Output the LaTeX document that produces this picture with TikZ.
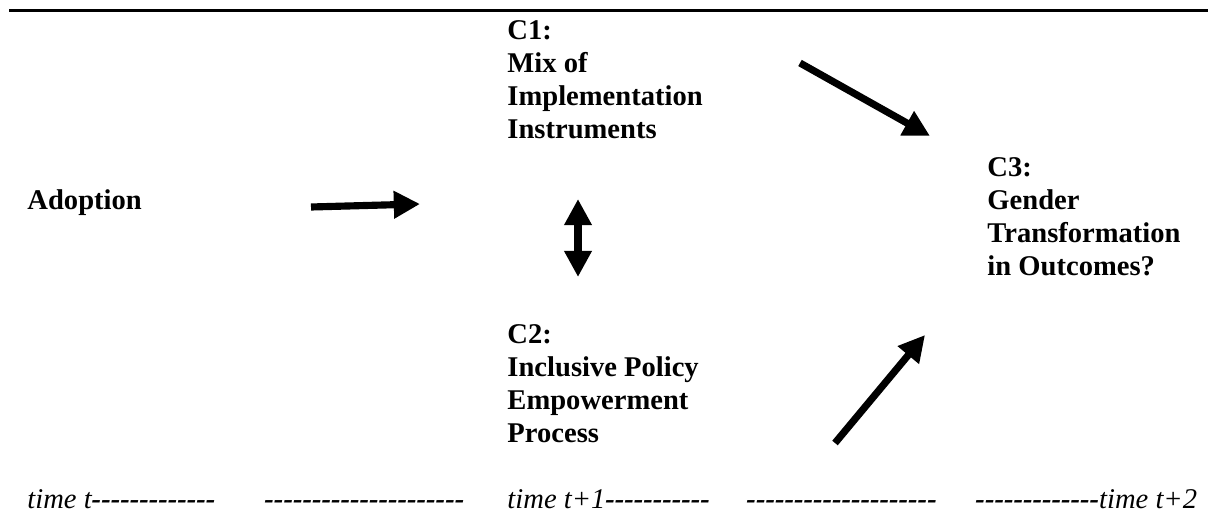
\documentclass[tikz,border=0pt]{standalone}
\usepackage{fontspec}
\setmainfont{Liberation Serif}
\usetikzlibrary{arrows.meta}

% a run of bold hyphens, kept apart so they do not join into dashes
\newcommand\dashrun[1]{\textbf{\foreach \i in {1,...,#1}{-\kern0pt}}}

\begin{document}
\begin{tikzpicture}[x=0.42pt, y=-0.42pt,
	block/.style={anchor=base west, inner sep=0pt, align=left, font=\fontsize{12}{13.8}\selectfont\bfseries},
	timetext/.style={anchor=base west, inner sep=0pt, font=\fontsize{12}{13.8}\selectfont\itshape},
	fat/.style={line width=3pt, -{Triangle[length=11pt,width=11pt]}}]
	% Frame
	\useasboundingbox (0,0) rectangle (1208,515);
	
	% Rule on top
	\draw[line width=1pt] (9,10.5) -- (1208,10.5);
	
	% Text blocks (base sits on the last line)
	\node[block] (adoption) at (27,209) {Adoption};
	\node[block] (cone) at (507,138) {C1:\\Mix of\\Implementation\\Instruments};
	\node[block] (ctwo) at (507,442) {C2:\\Inclusive Policy\\Empowerment\\Process};
	\node[block] (cthree) at (987,275) {C3:\\Gender\\Transformation\\in Outcomes?};
	
	% Arrow ends
	\coordinate (adoptfrom) at (311,207);
	\coordinate (adoptto) at (420,204);
	\coordinate (linktop) at (578,199);
	\coordinate (linkbottom) at (578,277);
	\coordinate (outfrom) at (800,63);
	\coordinate (outto) at (930,136);
	\coordinate (upfrom) at (835,443);
	\coordinate (upto) at (925,335);
	
	% Arrows
	\draw[fat] (adoptfrom) -- (adoptto);
	\draw[fat, {Triangle[length=11pt,width=11pt]}-{Triangle[length=11pt,width=11pt]}] (linktop) -- (linkbottom);
	\draw[fat] (outfrom) -- (outto);
	\draw[fat] (upfrom) -- (upto);
	
	% Time line
	\node[timetext] (tzero) at (27,508) {time t\dashrun{13}};
	\node[timetext] (gapone) at (264,508) {\dashrun{21}};
	\node[timetext] (tone) at (507,508) {time t+1\dashrun{11}};
	\node[timetext] (gaptwo) at (746,508) {\dashrun{20}};
	\node[timetext] (ttwo) at (975,508) {\dashrun{13}time t+2};
	
\end{tikzpicture}
\end{document}
